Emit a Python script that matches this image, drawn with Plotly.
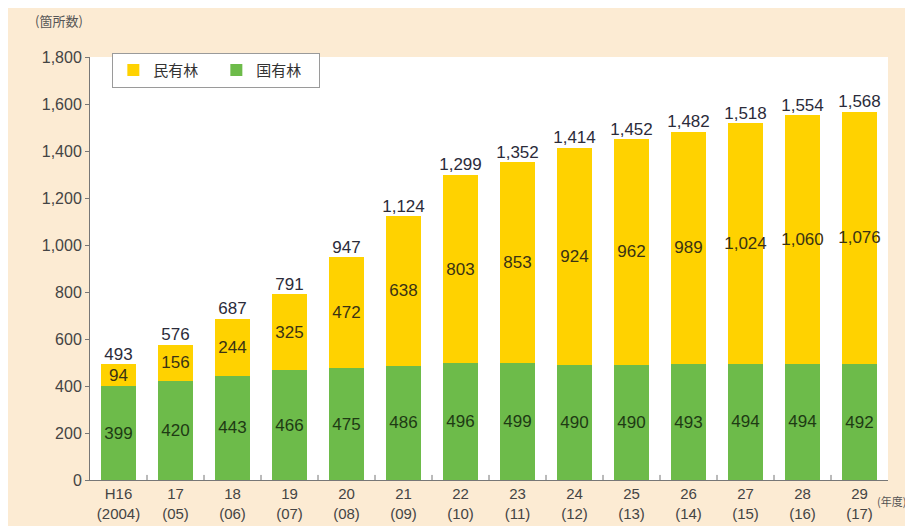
import plotly.graph_objects as go

categories = ["H16<br>(2004)", "17<br>(05)", "18<br>(06)", "19<br>(07)", "20<br>(08)", "21<br>(09)",
              "22<br>(10)", "23<br>(11)", "24<br>(12)", "25<br>(13)", "26<br>(14)", "27<br>(15)",
              "28<br>(16)", "29<br>(17)"]
national = [399, 420, 443, 466, 475, 486, 496, 499, 490, 490, 493, 494, 494, 492]
private = [94, 156, 244, 325, 472, 638, 803, 853, 924, 962, 989, 1024, 1060, 1076]
totals = [n + p for n, p in zip(national, private)]

FONT = "Liberation Sans, Arial, sans-serif"
CJK = "Noto Sans CJK JP, sans-serif"

fig = go.Figure()
fig.add_trace(go.Bar(
    x=categories, y=national, name="国有林", marker=dict(color="#6DBB4A", line=dict(width=0)),
    text=[f"{v:,}" for v in national], textposition="inside", insidetextanchor="middle",
    textangle=0, constraintext="none", textfont=dict(size=17, color="#1E3A14", family=FONT),
))
fig.add_trace(go.Bar(
    x=categories, y=private, name="民有林", marker=dict(color="#FFD200", line=dict(width=0)),
    text=[f"{v:,}" for v in private], textposition="inside", insidetextanchor="middle",
    textangle=0, constraintext="none", textfont=dict(size=17, color="#3A3214", family=FONT),
))
fig.add_trace(go.Scatter(
    x=categories, y=totals, mode="text", text=[f"{v:,}" for v in totals],
    textposition="top center", textfont=dict(size=17, color="#2B2B3A", family=FONT),
    showlegend=False, hoverinfo="skip", cliponaxis=False,
))

fig.update_layout(
    width=913, height=526, barmode="stack", bargap=0.39,
    paper_bgcolor="#FCEBD3", plot_bgcolor="#FFFFFF",
    margin=dict(l=82, r=33, t=49, b=45),
    font=dict(family=FONT, color="#444444", size=14),
    legend=dict(orientation="h", x=0.028, y=1.01, xanchor="left", yanchor="top",
                traceorder="reversed", bgcolor="#FFFFFF", bordercolor="#9A9A9A", borderwidth=1,
                font=dict(family=CJK, size=15, color="#333333"), entrywidth=58,
                itemwidth=30),
    xaxis=dict(range=[-0.5, 13.5], showline=True, linecolor="#777777", linewidth=1,
               ticks="", tickfont=dict(size=15, color="#444444"), showgrid=False),
    yaxis=dict(range=[0, 1800], dtick=200, tickformat=",", showline=True, linecolor="#777777",
               linewidth=1, ticks="outside", ticklen=4, tickcolor="#777777", showgrid=False,
               zeroline=False, tickfont=dict(size=16, color="#444444")),
    annotations=[
        dict(text="(箇所数)", xref="paper", yref="paper", x=-0.072, y=1.06, xanchor="left",
             yanchor="bottom", showarrow=False, font=dict(family=CJK, size=13, color="#555555")),
        dict(text="(年度)", xref="paper", yref="paper", x=0.984, y=-0.025, xanchor="left",
             yanchor="top", showarrow=False, font=dict(family=CJK, size=11, color="#555555")),
    ],
)
# category boundary ticks on x axis
for i in range(1, 14):
    fig.add_shape(type="line", xref="x", yref="paper", x0=i - 0.5, x1=i - 0.5, y0=0, y1=0.012,
                  line=dict(color="#777777", width=1))

fig.write_html("out.html")
